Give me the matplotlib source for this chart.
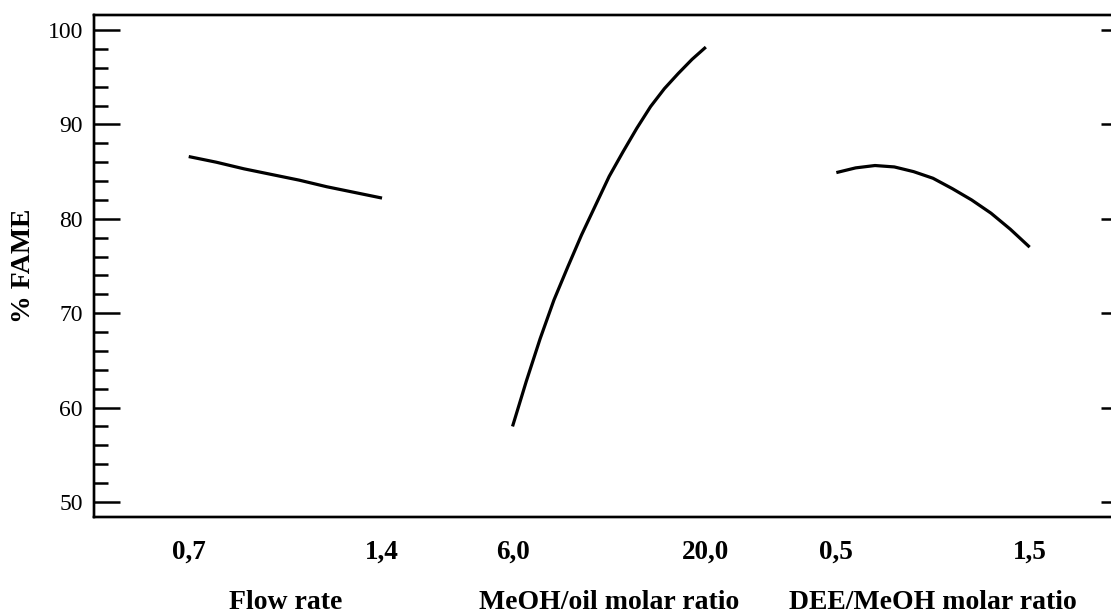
import matplotlib.pyplot as plt
from matplotlib.ticker import MultipleLocator
from matplotlib.transforms import blended_transform_factory

# dados (efeitos principais sobre % FAME)
fatores = ['Flow rate', 'MeOH/oil molar ratio', 'DEE/MeOH molar ratio']
rotulos_x = [['0,7', '1,4'], ['6,0', '20,0'], ['0,5', '1,5']]

flow_x = [0.7, 0.8, 0.9, 1.0, 1.1, 1.2, 1.3, 1.4]
flow_y = [86.6, 86.0, 85.3, 84.7, 84.1, 83.4, 82.8, 82.2]

meoh_x = [6, 7, 8, 9, 10, 11, 12, 13, 14, 15, 16, 17, 18, 19, 20]
meoh_y = [58.0, 62.8, 67.3, 71.4, 74.9, 78.3, 81.4, 84.5, 87.1, 89.6, 91.9, 93.8, 95.4, 96.9, 98.2]

dee_x = [0.5, 0.6, 0.7, 0.8, 0.9, 1.0, 1.1, 1.2, 1.3, 1.4, 1.5]
dee_y = [84.9, 85.4, 85.65, 85.5, 85.0, 84.3, 83.2, 82.0, 80.6, 78.9, 77.0]

curvas = [(flow_x, flow_y), (meoh_x, meoh_y), (dee_x, dee_y)]

# cada fator ocupa um trecho de comprimento 1 no eixo x
inicio = 0.49
passo = 1.675

plt.rcParams['font.family'] = 'Liberation Serif'

fig = plt.figure(figsize=(11.11, 6.15), dpi=100)
ax = fig.add_axes([0.0846, 0.1593, 0.917, 0.8163])

posicoes = []
nomes = []
for i, (xs, ys) in enumerate(curvas):
    lo, hi = xs[0], xs[-1]
    off = inicio + i * passo
    px = [off + (v - lo) / (hi - lo) for v in xs]
    ax.plot(px, ys, color='black', linewidth=2.3, solid_capstyle='butt')
    posicoes += [off, off + 1]
    nomes += rotulos_x[i]

trans = blended_transform_factory(ax.transData, ax.transAxes)
for i, nome in enumerate(fatores):
    ax.text(inicio + i * passo + 0.5, -0.17, nome, transform=trans,
            ha='center', va='center', fontsize=20, fontweight='bold')

ax.set_xlim(0, 5.27)
ax.set_ylim(48.4, 101.6)
ax.set_xticks(posicoes)
ax.set_xticklabels(nomes, fontsize=19.5, fontweight='bold')
ax.tick_params(axis='x', length=0, pad=16)

ax.yaxis.set_major_locator(MultipleLocator(10))
ax.yaxis.set_minor_locator(MultipleLocator(2))
ax.tick_params(axis='y', which='major', direction='in', length=19, width=1.8, labelsize=17, pad=8)
ax.tick_params(axis='y', which='minor', direction='in', length=10, width=1.8)
ax.set_ylabel('% FAME', fontsize=20, fontweight='bold')
ax.yaxis.set_label_coords(-0.057, 0.5)

# marcas do lado direito (so as principais, mais curtas)
ax2 = ax.twinx()
ax2.set_ylim(ax.get_ylim())
ax2.yaxis.set_major_locator(MultipleLocator(10))
ax2.tick_params(axis='y', direction='in', length=9, width=1.8, labelright=False)
for a in (ax, ax2):
    for s in a.spines.values():
        s.set_linewidth(1.7)

fig.savefig('out.png', dpi=100)
